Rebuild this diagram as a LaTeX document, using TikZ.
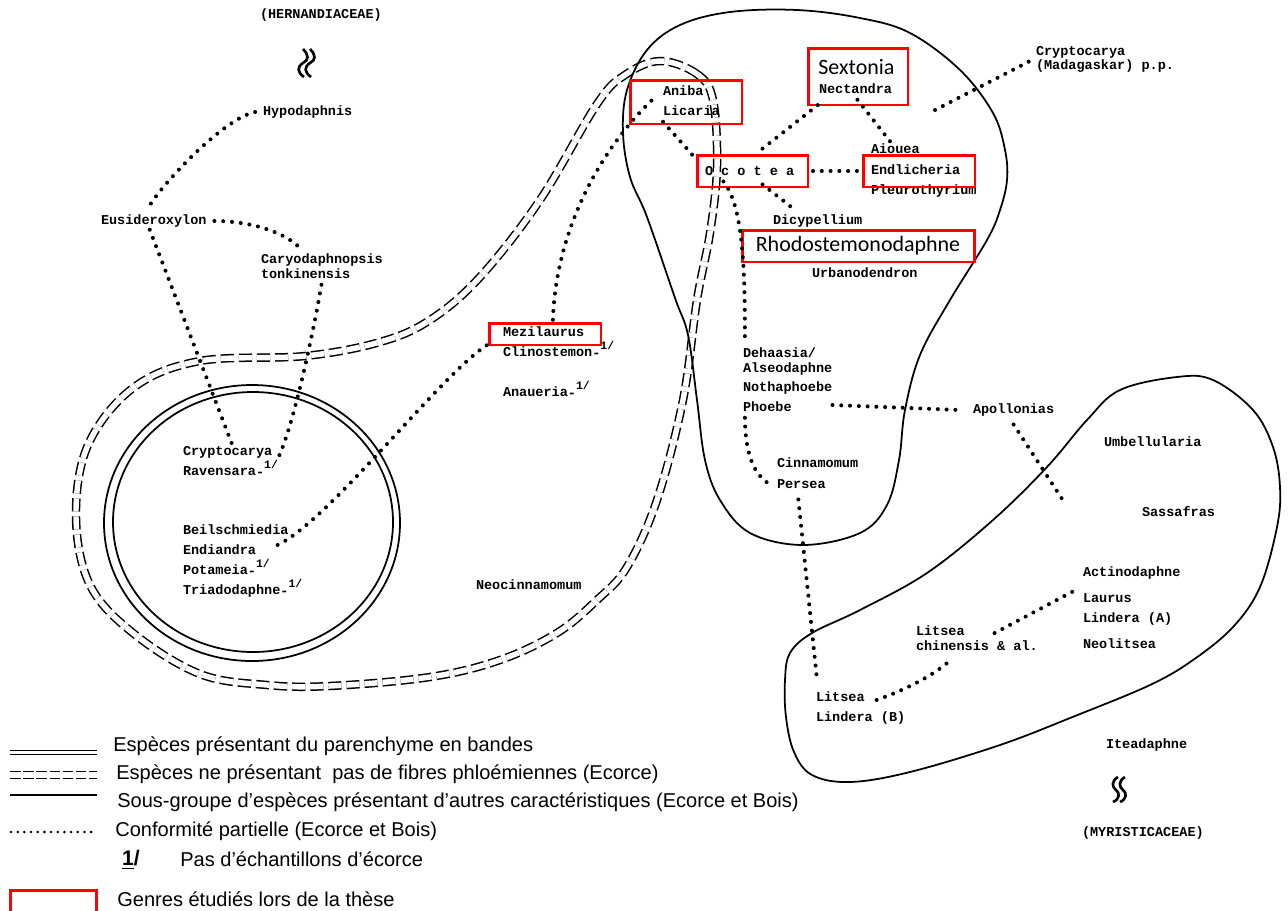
\documentclass[tikz,border=0pt]{standalone}
\usepackage{fontspec}
\setmainfont{Liberation Sans}
\newfontfamily\typewfont{Liberation Mono}
\newfontfamily\calibfont{Carlito}
\usetikzlibrary{positioning}
\newcommand{\nobark}{\raisebox{-0.12em}{-}\raisebox{0.5em}{\fontsize{6.5}{6.5}\selectfont 1/}}

\begin{document}
\begin{tikzpicture}[x=0.02cm, y=-0.02cm,
    genus/.style={anchor=west, inner sep=0pt, outer sep=0pt, text height=5pt,
                  text depth=1.5pt, font=\typewfont\bfseries\fontsize{7.7}{9}\selectfont},
    bignm/.style={inner sep=0pt, font=\calibfont\fontsize{12.5}{14}\selectfont},
    thesis/.style={draw=red, line width=1.7pt, inner sep=0pt},
    partial/.style={line width=2.3pt, dash pattern=on 0pt off 5pt, line cap=round},
    bandes/.style={line width=1pt},
    nophloem/.style={line width=0.85pt, double distance=3.1pt,
                     dash pattern=on 7.5pt off 2.8pt},
    subgrp/.style={line width=1pt},
    legtxt/.style={anchor=west, inner sep=0pt, font=\fontsize{11.4}{13}\selectfont}
  ]
  \useasboundingbox (0,0) rectangle (1288,910);

  % groupes
  \draw[nophloem] plot[smooth cycle, tension=0.6] coordinates {
      (660,61) (697,74) (713,100) (717,167) (710,233) (697,300) (683,400)
      (657,500) (627,567) (597,600) (557,633) (500,660) (430,677) (330,686)
      (267,685) (200,674) (133,633) (90,585) (76,517) (88,445) (133,388)
      (200,361) (305,356) (380,342) (430,320) (480,277) (540,200) (597,104)
      (625,75)};
  \draw[bandes] (252,523) ellipse [x radius=148, y radius=138];
  \draw[bandes] (253,522) ellipse [x radius=140, y radius=130];
  \draw[subgrp] plot[smooth cycle, tension=0.6] coordinates {
      (730,12) (797,10) (860,18) (910,33) (960,70) (993,113) (1005,150)
      (1007,180) (1000,210) (987,240) (950,300) (920,355) (905,410) (899,460)
      (887,505) (860,533) (803,545) (750,533) (720,500) (705,460) (697,400)
      (688,335) (675,298) (647,217) (630,177) (623,133) (627,90) (647,50)
      (680,25)};
  \draw[subgrp] plot[smooth cycle, tension=0.6] coordinates {
      (812,633) (860,610) (927,573) (993,520) (1047,467) (1087,420)
      (1120,390) (1177,377) (1213,380) (1253,410) (1273,447) (1280,487)
      (1277,527) (1260,587) (1233,627) (1193,660) (1150,685) (1075,716)
      (1000,745) (910,772) (850,782) (812,775) (794,752) (786,717) (785,680)
      (790,653)};

  % familles voisines
  \node[genus] (hern) at (260,15) {(HERNANDIACEAE)};
  \draw[line width=1.5pt] (303,49) .. controls (309,55) and (309,60) .. (303,63)
        .. controls (297,67) and (297,72) .. (304,77);
  \draw[line width=1.5pt] (310,49) .. controls (316,55) and (316,60) .. (310,63)
        .. controls (304,67) and (304,72) .. (311,77);
  \node[genus] (myri) at (1082,833) {(MYRISTICACEAE)};
  \draw[line width=1.5pt] (1118,777) .. controls (1111,781) and (1112,787) .. (1116,790)
        .. controls (1120,793) and (1120,799) .. (1113,802);
  \draw[line width=1.5pt] (1125,777) .. controls (1118,781) and (1119,787) .. (1123,790)
        .. controls (1127,793) and (1127,799) .. (1120,802);

  % genres
  \node[genus] (hypo)   at (263,112) {Hypodaphnis};
  \node[genus] (eusid)  at (101,221) {Eusideroxylon};
  \node[genus] (caryo1) at (261,260) {Caryodaphnopsis};
  \node[genus] (caryo2) at (261,275) {tonkinensis};
  \node[genus] (crypto) at (183,452) {Cryptocarya};
  \node[genus] (raven)  at (183,472) {Ravensara\nobark};
  \node[genus] (beil)   at (183,531) {Beilschmiedia};
  \node[genus] (endi)   at (183,551) {Endiandra};
  \node[genus] (potam)  at (183,571) {Potameia\nobark};
  \node[genus] (triad)  at (183,591) {Triadodaphne\nobark};
  \node[genus] (mezi)   at (503,333) {Mezilaurus};
  \node[genus] (clino)  at (503,353) {Clinostemon\nobark};
  \node[genus] (anau)   at (503,393) {Anaueria\nobark};
  \node[genus] (neoc)   at (476,586) {Neocinnamomum};
  \node[genus] (aniba)  at (663,92)  {Aniba};
  \node[genus] (licar)  at (663,112) {Licaria};
  \node[bignm, anchor=west] (sexto) at (818,67) {Sextonia};
  \node[genus] (nect)   at (819,90)  {Nectandra};
  \node[genus] (cryma1) at (1036,52) {Cryptocarya};
  \node[genus] (cryma2) at (1036,66) {(Madagaskar) p.p.};
  \node[genus] (aiou)   at (871,150) {Aiouea};
  \node[genus] (pleuro) at (871,191) {Pleurothyrium};
  \node[genus] (ocot)   at (705,172) {O c o t e a};
  \node[genus] (endl)   at (871,171) {Endlicheria};
  \node[genus] (dicyp)  at (773,221) {Dicypellium};
  \node[bignm] (rhodo)  at (858,246) {Rhodostemonodaphne};
  \node[genus] (urban)  at (812,274) {Urbanodendron};
  \node[genus] (dehaa)  at (743,354) {Dehaasia/};
  \node[genus] (alseo)  at (743,369) {Alseodaphne};
  \node[genus] (notha)  at (743,388) {Nothaphoebe};
  \node[genus] (phoeb)  at (743,408) {Phoebe};
  \node[genus] (cinna)  at (777,464) {Cinnamomum};
  \node[genus] (perse)  at (777,485) {Persea};
  \node[genus] (apoll)  at (973,410) {Apollonias};
  \node[genus] (umbel)  at (1104,443) {Umbellularia};
  \node[genus] (sassa)  at (1142,513) {Sassafras};
  \node[genus] (actin)  at (1083,573) {Actinodaphne};
  \node[genus] (laur)   at (1083,599) {Laurus};
  \node[genus] (lindA)  at (1083,619) {Lindera (A)};
  \node[genus] (neoli)  at (1083,645) {Neolitsea};
  \node[genus] (litch1) at (916,632) {Litsea};
  \node[genus] (litch2) at (916,647) {chinensis \& al.};
  \node[genus] (litsea) at (816,698) {Litsea};
  \node[genus] (lindB)  at (816,718) {Lindera (B)};
  \node[genus] (itea)   at (1106,745) {Iteadaphne};

  % genres etudies
  \node[thesis, minimum width=2.24cm, minimum height=0.88cm] (bxAniba) at (686,102) {};
  \node[thesis, minimum width=2.0cm, minimum height=1.14cm] (bxSext) at (858,76.5) {};
  \node[thesis, minimum width=2.22cm, minimum height=0.64cm] (bxOcot) at (752.5,171) {};
  \node[thesis, minimum width=2.24cm, minimum height=0.64cm] (bxEndl) at (919,171) {};
  \node[thesis, minimum width=4.66cm, minimum height=0.64cm] (bxRhodo) at (858.5,246) {};
  \node[thesis, minimum width=2.24cm, minimum height=0.44cm] (bxMezi) at (545,334) {};

  % conformite partielle
  \coordinate (apollEnd) at (1066,505);
  \coordinate (crymaEnd) at (935,110);
  \draw[partial] ([xshift=-4.5pt]hypo.west) .. controls (225,118) and (165,180)
        .. ([xshift=-3.4pt,yshift=4pt]eusid.north);
  \draw[partial] ([xshift=4.5pt]eusid.east) .. controls (250,221) and (285,232)
        .. ([xshift=-12.5pt,yshift=3.5pt]caryo1.north);
  \draw[partial] ([xshift=-2.3pt,yshift=-1.7pt]eusid.south)
        -- ([xshift=2.3pt,yshift=1.7pt]crypto.north);
  \draw[partial] ([xshift=9pt,yshift=-2.3pt]caryo2.south) .. controls (312,340) and (292,430)
        .. ([yshift=4.5pt]raven.north east);
  \draw[partial] ([xshift=-6.2pt,yshift=-4.7pt]beil.south east) .. controls (330,520) and (440,375)
        .. ([yshift=1pt]bxMezi.south west);
  \draw[partial] ([xshift=4.5pt,yshift=1pt]bxMezi.north) .. controls (556,230) and (600,150)
        .. ([xshift=-6.2pt,yshift=-1.3pt]aniba.south west);
  \draw[partial] ([yshift=-2.3pt]licar.south west) -- ([yshift=-2.8pt]bxOcot.north west);
  \draw[partial] ([xshift=5.7pt,yshift=2.8pt]bxOcot.north) -- ([xshift=6.8pt,yshift=1.1pt]bxSext.south west);
  \draw[partial] ([xshift=1.1pt,yshift=-2.3pt]nect.south) -- ([xshift=-1.7pt]aiou.north);
  \draw[partial, shorten <=2pt, shorten >=1pt] (bxOcot.east) -- (bxEndl.west);
  \draw[partial] ([xshift=5.7pt,yshift=2.3pt]bxOcot.south) -- ([xshift=11.3pt,yshift=4pt]dicyp.north west);
  \draw[partial] ([xshift=15.9pt,yshift=4pt]bxOcot.south west) .. controls (742,205) and (745,260)
        .. ([xshift=1.1pt,yshift=6pt]dehaa.north west);
  \draw[partial] ([xshift=1.1pt,yshift=-2.3pt]phoeb.south west) .. controls (745,455) and (755,475)
        .. ([xshift=-5pt,yshift=1pt]perse.west);
  \draw[partial] ([xshift=23.2pt,yshift=1.7pt]phoeb.east) -- ([xshift=-7.4pt]apoll.west);
  \draw[partial] ([yshift=-5pt]apoll.south) -- (apollEnd);
  \draw[partial] ([xshift=-1.7pt,yshift=-5pt]perse.south) -- ([xshift=0.6pt,yshift=6.8pt]litsea.north west);
  \draw[partial] ([xshift=6.8pt,yshift=-1.1pt]litsea.east) .. controls (905,690) and (935,675)
        .. ([xshift=21pt,yshift=-3pt]litch2.south west);
  \draw[partial] ([xshift=17pt,yshift=-0.6pt]litch1.east) -- ([xshift=-4.5pt,yshift=1.7pt]laur.north west);
  \draw[partial] (crymaEnd) -- ([xshift=-2.3pt,yshift=3.4pt]cryma2.west);

  % legende
  \draw[bandes] (10,750.5) -- (97,750.5);
  \draw[bandes] (10,754.5) -- (97,754.5);
  \draw[nophloem, dash pattern=on 6pt off 1.5pt] (10,775) -- (97,775);
  \draw[subgrp] (10,795) -- (97,795);
  \draw[partial, line width=1.6pt, dash pattern=on 0pt off 3.8pt] (11,832) -- (97,832);
  \node[legtxt] (leg1) at (113,746) {Espèces présentant du parenchyme en bandes};
  \node[legtxt] (leg2) at (116,774) {Espèces ne présentant\ \ pas de fibres phloémiennes (Ecorce)};
  \node[legtxt] (leg3) at (117,802) {Sous-groupe d’espèces présentant d’autres caractéristiques (Ecorce et Bois)};
  \node[legtxt] (leg4) at (115,831) {Conformité partielle (Ecorce et Bois)};
  \node[inner sep=0pt, font=\bfseries\fontsize{12}{12}\selectfont] (nbsym) at (131,860) {\underline{1}/};
  \node[legtxt] (leg5) at (180,859) {Pas d’échantillons d’écorce};
  \node[thesis, minimum width=1.74cm, minimum height=0.9cm] (bxLeg) at (53.5,913) {};
  \node[legtxt] (leg6) at (117,899) {Genres étudiés lors de la thèse};
\end{tikzpicture}
\end{document}
